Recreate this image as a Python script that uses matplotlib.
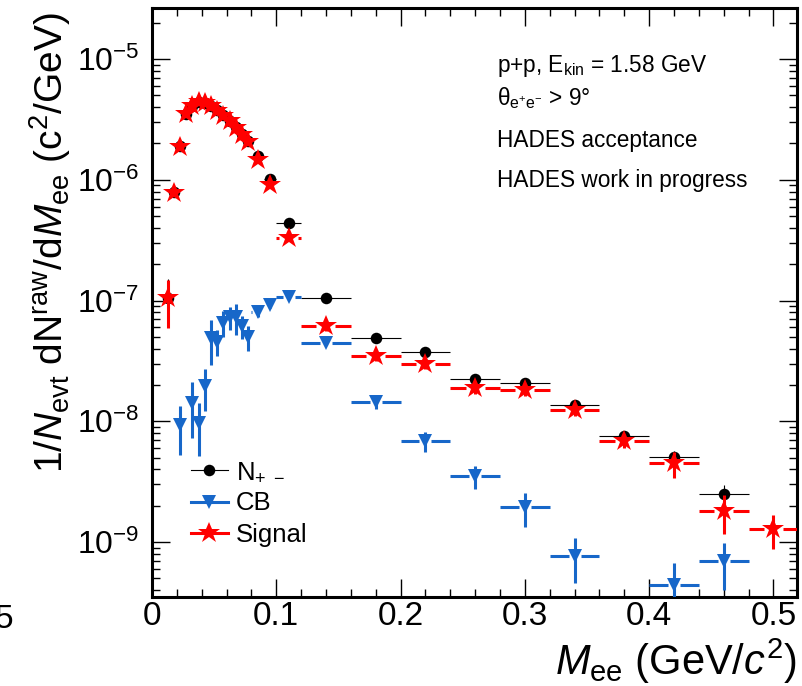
import numpy as np
import matplotlib
matplotlib.use("Agg")
import matplotlib.pyplot as plt
from matplotlib.collections import LineCollection
from matplotlib.lines import Line2D
from matplotlib.ticker import MultipleLocator, LogLocator, NullFormatter

plt.rcParams['font.family'] = ['Liberation Sans', 'DejaVu Sans']
plt.rcParams['mathtext.fontset'] = 'custom'
plt.rcParams['mathtext.rm'] = 'Liberation Sans'
plt.rcParams['mathtext.it'] = 'Liberation Sans:italic'
plt.rcParams['mathtext.bf'] = 'Liberation Sans:bold'

# raw e+e- yields per event, 1/N_evt dN/dM_ee
fine = [0.0125, 0.0175, 0.0225, 0.0275, 0.0325, 0.0375, 0.0425, 0.0475,
        0.0525, 0.0575, 0.0625, 0.0675, 0.0725, 0.0775]
mid = [0.085, 0.095, 0.11]
coarse = [0.14, 0.18, 0.22, 0.26, 0.30, 0.34, 0.38, 0.42, 0.46, 0.50]

# N+- (all unlike-sign pairs)
npm_x = fine + mid + coarse[:-1]
npm_xerr = [0.0025] * 14 + [0.005, 0.005, 0.01] + [0.02] * 9
npm_y = [1.05e-7, 7.9e-7, 1.89e-6, 3.52e-6, 4.12e-6, 4.42e-6, 4.37e-6, 4.12e-6,
         3.78e-6, 3.44e-6, 3.1e-6, 2.76e-6, 2.42e-6, 2.1e-6,
         1.58e-6, 1.02e-6, 4.4e-7,
         1.05e-7, 4.94e-8, 3.74e-8, 2.25e-8, 2.07e-8, 1.37e-8, 7.6e-9, 5.1e-9, 2.5e-9]
npm_yerr = [4.5e-8, 3e-8, 4e-8, 5e-8, 5e-8, 5e-8, 5e-8, 5e-8,
            5e-8, 5e-8, 5e-8, 4e-8, 4e-8, 4e-8,
            3e-8, 2.5e-8, 1.5e-8,
            3e-9, 2e-9, 2e-9, 1.3e-9, 1.2e-9, 9e-10, 7e-10, 6e-10, 4.5e-10]

# combinatorial background
cb_x = [0.0225, 0.0325, 0.0375, 0.0425, 0.0475, 0.0525, 0.0575, 0.0625,
        0.0675, 0.0725, 0.0775, 0.085, 0.095, 0.11,
        0.14, 0.18, 0.22, 0.26, 0.30, 0.34, 0.42, 0.46]
cb_xerr = [0.0025] * 11 + [0.005, 0.005, 0.01] + [0.02] * 8
cb_y = [9.3e-9, 1.42e-8, 9.7e-9, 1.97e-8, 4.9e-8, 4.55e-8, 6.55e-8, 7.3e-8,
        7.3e-8, 6.1e-8, 5.0e-8, 8.1e-8, 9.2e-8, 1.08e-7,
        4.44e-8, 1.44e-8, 6.9e-9, 3.5e-9, 1.94e-9, 7.7e-10, 4.4e-10, 6.9e-10]
cb_yerr = [4e-9, 7e-9, 4.5e-9, 7.5e-9, 2e-8, 1.1e-8, 1.6e-8, 1.6e-8,
           2.1e-8, 1.3e-8, 1.2e-8, 8e-9, 6e-9, 3e-9,
           1.5e-9, 1.8e-9, 1.3e-9, 7.5e-10, 6e-10, 3.1e-10, 2.3e-10, 2.9e-10]

# signal = N+- minus CB
sig_x = fine + mid + coarse
sig_xerr = [0.0025] * 14 + [0.005, 0.005, 0.01] + [0.02] * 10
sig_y = [1.04e-7, 7.8e-7, 1.88e-6, 3.5e-6, 4.1e-6, 4.4e-6, 4.35e-6, 4.1e-6,
         3.75e-6, 3.4e-6, 3.05e-6, 2.7e-6, 2.35e-6, 2.05e-6,
         1.47e-6, 9.1e-7, 3.3e-7,
         6.2e-8, 3.5e-8, 3.0e-8, 1.88e-8, 1.8e-8, 1.23e-8, 6.9e-9, 4.5e-9, 1.82e-9, 1.27e-9]
sig_yerr = [4.5e-8, 3e-8, 4e-8, 5e-8, 5e-8, 5e-8, 5e-8, 5e-8,
            5e-8, 5e-8, 5e-8, 4e-8, 4e-8, 4e-8,
            3e-8, 2.5e-8, 2e-8,
            6e-9, 3.5e-9, 3e-9, 2e-9, 1.8e-9, 1.3e-9, 9e-10, 1.1e-9, 6.5e-10, 3.9e-10]

xtick_vals = [0, 0.1, 0.2, 0.3, 0.4, 0.5]
xtick_labels = ['0', '0.1', '0.2', '0.3', '0.4', '0.5']
ytick_vals = [1e-9, 1e-8, 1e-7, 1e-6, 1e-5]

info_lines = [r"p+p, E$_{\mathrm{kin}}$ = 1.58 GeV",
              r"θ$_{\mathrm{e^{+}e^{-}}}$ > 9°",
              "HADES acceptance",
              "HADES work in progress"]

RED = '#ff0000'
BLUE = '#1767c9'
MS_DOT, MS_TRI, MS_STAR = 8.3, 9.5, 16.5

fig = plt.figure(figsize=(8.02, 6.86), dpi=100)
ax = fig.add_axes([0.1895, 0.1297, 0.8043, 0.8586])
ax.set_yscale('log')
ax.set_xlim(0, 0.519)
ax.set_ylim(3.5e-10, 2.65e-5)


def draw_errors(x, y, xerr, yerr, color, lw, gap_px, z):
    # horizontal bars stop gap_px pixels short of the marker centre
    fwd = ax.transData.transform
    inv = ax.transData.inverted().transform
    segs = []
    for xi, yi, xe, ye in zip(x, y, xerr, yerr):
        cx, cy = fwd((xi, yi))
        lx = fwd((xi - xe, yi))[0]
        rx = fwd((xi + xe, yi))[0]
        if cx - gap_px > lx:
            segs.append(inv([(lx, cy), (cx - gap_px, cy)]))
        if rx > cx + gap_px:
            segs.append(inv([(cx + gap_px, cy), (rx, cy)]))
        segs.append([(xi, yi - ye), (xi, yi + ye)])
    lc = LineCollection(segs, colors=color, linewidths=lw, capstyle='butt', zorder=z)
    ax.add_collection(lc)


draw_errors(npm_x, npm_y, npm_xerr, npm_yerr, 'black', 0.8, 0, 2)
ax.plot(npm_x, npm_y, 'o', color='black', ms=MS_DOT, mew=0, zorder=3)

draw_errors(cb_x, cb_y, cb_xerr, cb_yerr, BLUE, 2.2, 6, 4)
ax.plot(cb_x, cb_y, 'v', color=BLUE, ms=MS_TRI, mew=0, zorder=5)

draw_errors(sig_x, sig_y, sig_xerr, sig_yerr, RED, 2.2, 9.5, 6)
ax.plot(sig_x, sig_y, '*', color=RED, ms=MS_STAR, mew=0, zorder=7)

ax.set_xlim(0, 0.519)
ax.set_ylim(3.5e-10, 2.65e-5)

# axes frame and ticks
for sp in ax.spines.values():
    sp.set_linewidth(2.2)
ax.set_xticks(xtick_vals)
ax.set_xticklabels(xtick_labels)
ax.xaxis.set_minor_locator(MultipleLocator(0.02))
ax.set_yticks(ytick_vals)
ax.yaxis.set_minor_locator(LogLocator(base=10, subs=np.arange(2, 10)))
ax.yaxis.set_minor_formatter(NullFormatter())
ax.tick_params(which='both', direction='in', top=True, right=True, width=1)
ax.tick_params(which='major', length=13)
ax.tick_params(which='minor', length=6)
ax.tick_params(axis='x', which='major', labelsize=24, pad=3)
ax.tick_params(axis='y', which='major', labelsize=23, pad=9)

ax.set_xlabel(r"$M_{\mathrm{ee}}$ (GeV/$c^{2}$)", fontsize=30, loc='right')
ax.xaxis.set_label_coords(1.0, -0.068)
ax.set_ylabel(r"1/$N_{\mathrm{evt}}$ dN$^{\mathrm{raw}}$/d$M_{\mathrm{ee}}$ (c$^{2}$/GeV)",
              fontsize=28, loc='top')
ax.yaxis.set_label_coords(-0.123, 0.993)

for txt, yb in zip(info_lines, [0.891, 0.835, 0.764, 0.696]):
    ax.text(0.535, yb, txt, transform=ax.transAxes, fontsize=16.3, va='baseline', ha='left')

handles = [
    Line2D([], [], color='black', lw=0.8, marker='o', ms=MS_DOT, mew=0),
    Line2D([], [], color=BLUE, lw=2.2, marker='v', ms=MS_TRI, mew=0),
    Line2D([], [], color=RED, lw=2.2, marker='*', ms=MS_STAR, mew=0),
]
ax.legend(handles, [r"N$_{+\ -}$", "CB", "Signal"], loc='upper left',
          bbox_to_anchor=(0.06, 0.233), frameon=False, fontsize=18.5,
          handlelength=1.45, handletextpad=0.3, labelspacing=0.3,
          borderpad=0, borderaxespad=0)

fig.text(0.016, 0.084, "5", fontsize=24, ha='right', va='baseline')

fig.savefig('out.png', dpi=100)
